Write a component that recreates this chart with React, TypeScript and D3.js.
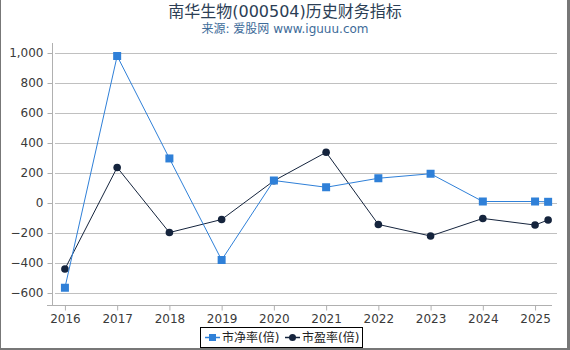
import React, { useEffect, useRef } from "react";
import * as d3 from "d3";

const W = 570;
const H = 350;

// x positions in years (last point is a partial-year report)
const periods = [2016, 2017, 2018, 2019, 2020, 2021, 2022, 2023, 2024, 2025, 2025.25];
const pbValues = [-565, 980, 297, -380, 150, 105, 165, 195, 10, 10, 8];
const peValues = [-440, 237, -197, -110, 148, 338, -143, -220, -103, -147, -113];
const yearTicks = [2016, 2017, 2018, 2019, 2020, 2021, 2022, 2023, 2024, 2025];
const yTicks = [-600, -400, -200, 0, 200, 400, 600, 800, 1000];

const seriesNames = ["市净率(倍)", "市盈率(倍)"];
const pbColor = "#2f80d8";
const peColor = "#15243d";
const font = "'DejaVu Sans', 'Noto Sans CJK SC', sans-serif";

export default function App() {
    const ref = useRef<SVGSVGElement>(null);

    useEffect(() => {
        if (!ref.current) return;
        const svg = d3.select(ref.current);
        svg.selectAll("*").remove();

        const plot = { left: 55, right: 557, top: 53, bottom: 305 };

        const x = d3.scaleLinear().domain([2015.81, 2025.42]).range([plot.left, plot.right]);
        const y = d3.scaleLinear().domain([-600, 1000]).range([293, 53]);

        svg.append("rect").attr("width", W).attr("height", H).attr("fill", "#fff");

        // outer frame (left, right, bottom)
        svg.append("line").attr("x1", 0.5).attr("x2", 0.5).attr("y1", 0).attr("y2", H).attr("stroke", "#777").attr("stroke-width", 1);
        svg.append("line").attr("x1", 568.5).attr("x2", 568.5).attr("y1", 0).attr("y2", H).attr("stroke", "#777").attr("stroke-width", 3);
        svg.append("line").attr("x1", 0).attr("x2", W).attr("y1", 349).attr("y2", 349).attr("stroke", "#777").attr("stroke-width", 2);

        // title
        svg.append("text").attr("x", 285).attr("y", 17).attr("text-anchor", "middle")
            .attr("font-family", font).attr("font-size", 16).attr("fill", "#2b3e55")
            .text("南华生物(000504)历史财务指标");
        svg.append("text").attr("x", 285).attr("y", 33).attr("text-anchor", "middle")
            .attr("font-family", font).attr("font-size", 12).attr("fill", "#3d6b99")
            .text("来源: 爱股网 www.iguuu.com");

        // grid
        svg.append("g").selectAll("line").data(yTicks).join("line")
            .attr("x1", plot.left).attr("x2", plot.right)
            .attr("y1", (d) => Math.round(y(d)) + 0.5).attr("y2", (d) => Math.round(y(d)) + 0.5)
            .attr("stroke", "#c0c0c0").attr("stroke-width", 1);

        // y axis
        const yAxis = svg.append("g").attr("transform", `translate(${plot.left - 2.5},0)`)
            .call(d3.axisLeft(y).tickValues(yTicks).tickSize(5).tickPadding(4).tickFormat(d3.format(",")));
        yAxis.select(".domain").attr("stroke", "#b0b0b0").attr("d", `M0,${plot.top - 10}V${plot.bottom}`);
        yAxis.selectAll(".tick line").attr("stroke", "#b0b0b0");
        yAxis.selectAll("text").attr("font-family", font).attr("font-size", 12).attr("fill", "#3a3a3a");

        // x axis
        const xAxis = svg.append("g").attr("transform", `translate(0,${plot.bottom + 0.5})`)
            .call(d3.axisBottom(x).tickValues(yearTicks).tickSize(5).tickPadding(4).tickFormat(d3.format("d")));
        xAxis.select(".domain").attr("stroke", "#b0b0b0").attr("d", `M${plot.left - 8},0H${plot.right - 5}`);
        xAxis.selectAll(".tick line").attr("stroke", "#b0b0b0");
        xAxis.selectAll("text").attr("font-family", font).attr("font-size", 12).attr("fill", "#3a3a3a");

        const line = d3.line<number>().x((_, i) => x(periods[i])).y((d) => y(d));

        // PE series
        svg.append("path").datum(peValues).attr("fill", "none").attr("stroke", peColor)
            .attr("stroke-width", 1).attr("d", line);
        svg.append("g").selectAll("circle").data(peValues).join("circle")
            .attr("cx", (_, i) => x(periods[i])).attr("cy", (d) => y(d))
            .attr("r", 3.8).attr("fill", peColor);

        // PB series (drawn on top)
        svg.append("path").datum(pbValues).attr("fill", "none").attr("stroke", pbColor)
            .attr("stroke-width", 1).attr("d", line);
        svg.append("g").selectAll("rect").data(pbValues).join("rect")
            .attr("x", (_, i) => x(periods[i]) - 4).attr("y", (d) => y(d) - 4)
            .attr("width", 8).attr("height", 8).attr("fill", pbColor);

        // legend
        const lg = svg.append("g");
        lg.append("rect").attr("x", 200.5).attr("y", 327.5).attr("width", 162).attr("height", 20)
            .attr("fill", "#fff").attr("stroke", "#000").attr("stroke-width", 1);
        const items = [
            { name: seriesNames[0], color: pbColor, shape: "square", x: 205 },
            { name: seriesNames[1], color: peColor, shape: "circle", x: 285 },
        ];
        items.forEach((it) => {
            lg.append("line").attr("x1", it.x).attr("x2", it.x + 15).attr("y1", 337.5).attr("y2", 337.5)
                .attr("stroke", it.color).attr("stroke-width", 1.5);
            if (it.shape === "square") {
                lg.append("rect").attr("x", it.x + 4).attr("y", 334).attr("width", 7).attr("height", 7).attr("fill", it.color);
            } else {
                lg.append("circle").attr("cx", it.x + 7.5).attr("cy", 337.5).attr("r", 3.5).attr("fill", it.color);
            }
            lg.append("text").attr("x", it.x + 17).attr("y", 342).attr("font-family", font)
                .attr("font-size", 12).attr("fill", "#222").text(it.name);
        });
    }, []);

    return (
        <svg ref={ref} width={W} height={H} style={{ position: "absolute", left: 0, top: 0, display: "block" }} />
    );
}
